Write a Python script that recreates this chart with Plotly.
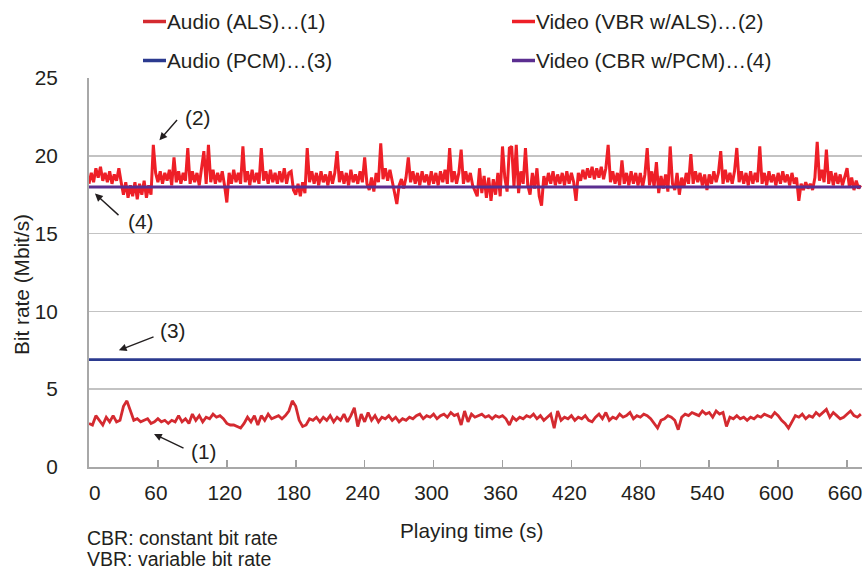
import plotly.graph_objects as go

# ---------------- data ----------------
video_step = 2  # s between video samples
video_vbr = [
    # 0-58 s
    18.2, 18.9, 18.3, 19.2, 18.6, 19.3, 18.4, 18.9, 18.3, 19.0,
    18.2, 18.8, 18.4, 19.2, 18.3, 17.5, 18.3, 17.3, 18.1, 17.4,
    18.3, 17.2, 18.2, 17.5, 18.4, 17.3, 18.1, 17.5, 20.7, 18.9,
    # 60-118 s
    18.3, 19.0, 18.2, 18.9, 18.4, 19.1, 18.1, 19.9, 18.3, 19.0,
    18.2, 18.9, 18.4, 20.5, 18.2, 19.0, 18.3, 18.9, 18.1, 19.1,
    20.3, 18.2, 20.7, 18.3, 19.1, 18.2, 18.9, 18.3, 19.0, 18.1,
    # 120-178 s
    17.0, 18.9, 18.2, 19.1, 18.3, 18.9, 18.2, 20.6, 18.3, 19.0,
    18.1, 19.1, 18.3, 18.9, 18.2, 20.5, 18.4, 19.0, 18.2, 19.1,
    18.3, 18.9, 18.2, 19.0, 18.3, 19.2, 18.2, 18.9, 19.0, 17.8,
    # 180-238 s
    17.5, 18.2, 17.4, 18.3, 17.6, 20.5, 18.3, 19.0, 18.2, 18.9,
    18.1, 19.0, 18.3, 18.8, 18.1, 19.0, 18.2, 18.9, 20.3, 18.3,
    19.0, 18.2, 18.9, 18.1, 19.1, 18.3, 18.8, 18.2, 19.0, 18.3,
    # 240-298 s
    19.9, 18.2, 17.8, 18.6, 17.7, 18.9, 18.3, 20.8, 18.5, 19.2,
    18.4, 19.1, 18.3, 17.6, 16.9, 18.1, 18.5, 17.9, 18.6, 19.9,
    18.3, 19.0, 18.2, 18.9, 18.1, 19.0, 18.3, 18.8, 18.1, 19.0,
    # 300-358 s
    18.2, 18.9, 18.1, 19.0, 18.3, 19.1, 18.2, 20.5, 18.3, 19.0,
    18.2, 18.9, 20.4, 18.2, 19.0, 18.3, 18.9, 18.1, 17.8, 17.4,
    19.2, 17.6, 18.7, 17.3, 18.6, 17.1, 18.5, 17.5, 18.9, 17.4,
    # 360-418 s
    20.6, 18.6, 17.7, 20.5, 20.6, 18.0, 20.7, 17.6, 19.0, 18.2,
    20.5, 18.1, 17.5, 18.9, 17.9, 19.2, 17.4, 16.8, 18.7, 18.1,
    18.9, 18.2, 19.0, 18.1, 18.8, 18.2, 18.9, 18.1, 19.0, 18.2,
    # 420-478 s
    18.9, 18.3, 17.1, 18.9, 18.4, 19.1, 18.5, 19.2, 18.6, 19.3,
    18.5, 19.2, 18.6, 19.3, 18.5, 19.2, 20.7, 18.3, 19.0, 18.2,
    18.9, 18.1, 19.7, 18.2, 18.9, 18.1, 19.0, 18.2, 18.9, 18.1,
    # 480-538 s
    18.9, 18.0, 18.8, 20.5, 18.1, 19.0, 18.0, 19.6, 17.6, 18.7,
    17.9, 18.8, 17.7, 20.6, 18.2, 17.8, 18.9, 17.5, 18.6, 18.0,
    18.9, 18.2, 20.1, 18.2, 19.0, 18.3, 18.9, 18.1, 18.8, 17.8,
    # 540-598 s
    18.8, 18.2, 19.0, 18.3, 18.9, 20.3, 18.2, 19.1, 18.3, 18.9,
    18.2, 19.0, 20.5, 18.3, 19.0, 18.2, 18.9, 18.1, 19.0, 18.2,
    18.9, 18.3, 20.6, 18.2, 18.9, 18.1, 19.0, 18.3, 18.8, 18.1,
    # 600-658 s
    18.9, 18.2, 19.0, 18.3, 18.8, 18.1, 18.9, 18.2, 18.6, 17.1,
    18.2, 17.8, 18.3, 17.9, 18.2, 17.8, 18.6, 20.9, 18.4, 19.1,
    18.3, 20.4, 18.2, 19.0, 18.1, 18.9, 18.2, 18.8, 18.1, 18.7,
    # 660-672 s
    19.2, 18.0, 18.6, 17.8, 18.4, 17.9, 18.1,
]

audio_step = 3  # s between audio samples
audio_als = [
    2.8, 2.7, 3.3, 3.0, 2.7, 3.2, 2.9, 3.3, 2.9, 3.0,   # 0-27
    3.9, 4.25, 3.6, 3.0, 3.1, 2.9, 3.0, 3.1, 2.8, 2.9,  # 30-57
    3.1, 2.9, 3.0, 2.8, 3.0, 2.9, 3.3, 2.9, 3.1, 2.8,   # 60-87
    3.4, 3.0, 3.3, 2.9, 3.2, 3.1, 3.4, 3.2, 3.3, 3.1,   # 90-117
    2.8, 2.7, 2.7, 2.6, 2.5, 2.8, 3.2, 2.9, 3.3, 2.7,   # 120-147
    3.3, 3.0, 3.4, 3.1, 3.2, 3.3, 3.1, 3.3, 3.6, 4.25,  # 150-177
    3.9, 3.0, 2.6, 2.7, 3.1, 3.0, 3.2, 2.9, 3.2, 3.0,   # 180-207
    3.3, 2.9, 3.2, 3.0, 3.4, 2.9, 3.3, 3.8, 2.6, 3.4,   # 210-237
    2.9, 3.5, 3.0, 3.3, 2.9, 3.2, 3.1, 3.3, 3.0, 3.2,   # 240-267
    2.9, 3.1, 3.0, 3.2, 3.1, 3.3, 3.4, 3.1, 3.3, 3.2,   # 270-297
    3.4, 3.1, 3.3, 3.4, 3.2, 3.5, 3.3, 3.4, 2.7, 3.6,   # 300-327
    2.9, 3.4, 3.2, 3.3, 3.4, 3.2, 3.3, 3.1, 3.3, 3.2,   # 330-357
    3.3, 3.1, 2.7, 3.2, 3.0, 3.2, 3.1, 3.3, 3.2, 3.4,   # 360-387
    3.1, 3.3, 3.0, 3.2, 3.4, 2.5, 3.6, 3.0, 3.2, 3.1,   # 390-417
    3.3, 3.0, 3.2, 3.1, 3.3, 3.0, 2.9, 3.2, 3.4, 3.1,   # 420-447
    3.5, 3.0, 3.2, 3.1, 3.4, 3.2, 3.3, 3.5, 3.1, 3.3,   # 450-477
    3.2, 3.4, 3.3, 3.1, 2.8, 2.5, 3.0, 3.1, 3.3, 3.2,   # 480-507
    3.0, 2.4, 3.2, 3.4, 3.3, 3.5, 3.4, 3.3, 3.6, 3.4,   # 510-537
    3.5, 3.2, 3.6, 3.4, 3.5, 2.6, 3.2, 3.1, 3.3, 3.1,   # 540-567
    3.2, 3.0, 3.2, 3.1, 3.3, 3.2, 3.4, 3.3, 3.2, 3.5,   # 570-597
    3.3, 3.0, 2.8, 2.5, 2.9, 3.3, 3.2, 3.4, 3.1, 3.3,   # 600-627
    3.2, 3.5, 3.3, 3.5, 3.7, 3.2, 3.5, 3.3, 3.1, 3.2,   # 630-657
    3.4, 3.6, 3.3, 3.2, 3.4,                            # 660-672
]

audio_pcm_rate = 6.9      # Mbit/s, constant
video_cbr_rate = 18.0     # Mbit/s, constant
const_span = [0, 672]     # s

x_tick_vals = [0, 60, 120, 180, 240, 300, 360, 420, 480, 540, 600, 660]
x_tick_text = ["0", "60", "120", "180", "240", "300", "360", "420", "480",
               "540", "600", "660"]
y_tick_vals = [0, 5, 10, 15, 20, 25]

series_names = ["Audio (ALS)…(1)", "Video (VBR w/ALS)…(2)",
                "Audio (PCM)…(3)", "Video (CBR w/PCM)…(4)"]

# ---------------- style ----------------
C_ALS = "#d42a30"
C_VBR = "#ee1f27"
C_PCM = "#2b3a8f"
C_CBR = "#5b2e90"
TXT = "#231f20"
GRID = "#c3c3c3"
FONT = "Liberation Sans, Arial, sans-serif"
FS = 20.8

W, H = 864, 570
L, R, T, B = 89, 2, 78, 103
PW, PH = W - L - R, H - T - B


def px(x):
    return (x - L) / PW


def py(y):
    return (T + PH - y) / PH


video_t = [i * video_step for i in range(len(video_vbr))]
audio_t = [i * audio_step for i in range(len(audio_als))]

fig = go.Figure()
fig.add_trace(go.Scatter(x=video_t, y=video_vbr, mode="lines", name=series_names[1],
                         line=dict(color=C_VBR, width=3), showlegend=False))
fig.add_trace(go.Scatter(x=const_span, y=[video_cbr_rate] * 2, mode="lines",
                         name=series_names[3], line=dict(color=C_CBR, width=3),
                         showlegend=False))
fig.add_trace(go.Scatter(x=audio_t, y=audio_als, mode="lines", name=series_names[0],
                         line=dict(color=C_ALS, width=2.8), showlegend=False))
fig.add_trace(go.Scatter(x=const_span, y=[audio_pcm_rate] * 2, mode="lines",
                         name=series_names[2], line=dict(color=C_PCM, width=2.6),
                         showlegend=False))

# ---------------- manual legend ----------------
legend_items = [
    (series_names[0], C_ALS, 143, 21.5),
    (series_names[1], C_VBR, 512, 21.5),
    (series_names[2], C_PCM, 143, 60.5),
    (series_names[3], C_CBR, 512, 60.5),
]
shapes = []
annotations = []
for name, col, x0, yy in legend_items:
    shapes.append(dict(type="line", xref="paper", yref="paper",
                       x0=px(x0), x1=px(x0 + 23), y0=py(yy), y1=py(yy),
                       line=dict(color=col, width=3.5)))
    annotations.append(dict(xref="paper", yref="paper", x=px(x0 + 22), y=py(yy),
                            text=name, showarrow=False, xanchor="left", yanchor="middle",
                            font=dict(size=FS, color=TXT, family=FONT)))

# first x tick label sits slightly right of the axis corner, as in the original
annotations.append(dict(xref="paper", yref="paper", x=px(95), y=py(492),
                        text=x_tick_text[0], showarrow=False, xanchor="center",
                        yanchor="middle", font=dict(size=FS, color=TXT, family=FONT)))

# axis titles and notes
NOTE_FS = 19.5
annotations += [
    dict(xref="paper", yref="paper", x=px(471), y=py(530), text="Playing time (s)",
         showarrow=False, xanchor="center", yanchor="middle",
         font=dict(size=FS, color=TXT, family=FONT)),
    dict(xref="paper", yref="paper", x=px(21), y=py(285), text="Bit rate (Mbit/s)",
         textangle=-90, showarrow=False, xanchor="center", yanchor="middle",
         font=dict(size=FS, color=TXT, family=FONT)),
    dict(xref="paper", yref="paper", x=px(86), y=py(538), text="CBR: constant bit rate",
         showarrow=False, xanchor="left", yanchor="middle", borderpad=0,
         font=dict(size=NOTE_FS, color=TXT, family=FONT)),
    dict(xref="paper", yref="paper", x=px(86), y=py(558.5), text="VBR: variable bit rate",
         showarrow=False, xanchor="left", yanchor="middle", borderpad=0,
         font=dict(size=NOTE_FS, color=TXT, family=FONT)),
]

# callout arrows (tip, tail, label) in data coordinates
callouts = [
    ("(1)", (56.6, 2.12), (83.6, 1.16), (100.0, 1.0)),
    ("(2)", (61.3, 21.0), (77.8, 22.4), (94.5, 22.45)),
    ("(3)", (26.0, 7.5), (57.5, 8.4), (72.5, 8.75)),
    ("(4)", (5.2, 17.57), (27.0, 16.1), (44.5, 15.75)),
]
for lab, tip, tail, pos in callouts:
    annotations.append(dict(x=tip[0], y=tip[1], ax=tail[0], ay=tail[1],
                            xref="x", yref="y", axref="x", ayref="y", text="",
                            showarrow=True, arrowhead=2, arrowsize=1.1,
                            arrowwidth=1.4, arrowcolor=TXT))
    annotations.append(dict(x=pos[0], y=pos[1], xref="x", yref="y", text=lab,
                            showarrow=False, xanchor="center", yanchor="middle",
                            font=dict(size=FS, color=TXT, family=FONT)))

fig.update_layout(
    width=W, height=H,
    margin=dict(l=L, r=R, t=T, b=B),
    paper_bgcolor="white", plot_bgcolor="white",
    font=dict(family=FONT, size=FS, color=TXT),
    shapes=shapes, annotations=annotations,
    showlegend=False,
)
fig.update_xaxes(range=[0, 673], tickvals=x_tick_vals,
                 ticktext=[""] + x_tick_text[1:], showgrid=False,
                 ticks="inside", ticklen=7, tickwidth=1.5, tickcolor="#a0a0a0",
                 showline=True, linecolor="#a8a8a8", linewidth=2,
                 zeroline=False, ticklabelstandoff=6, ticklabelshift=-2,
                 ticklabeloverflow="allow",
                 tickfont=dict(size=FS, color=TXT, family=FONT))
fig.update_yaxes(range=[0, 25], tickvals=y_tick_vals, showgrid=True,
                 gridcolor=GRID, gridwidth=1.5, ticks="",
                 showline=True, linecolor="#a8a8a8", linewidth=2,
                 zeroline=False, ticklabelstandoff=25,
                 tickfont=dict(size=FS, color=TXT, family=FONT))

fig.write_html(
    "out.html",
    config={"displayModeBar": False, "staticPlot": True},
    post_script="document.body.style.margin='0';document.body.style.overflow='hidden';",
)
